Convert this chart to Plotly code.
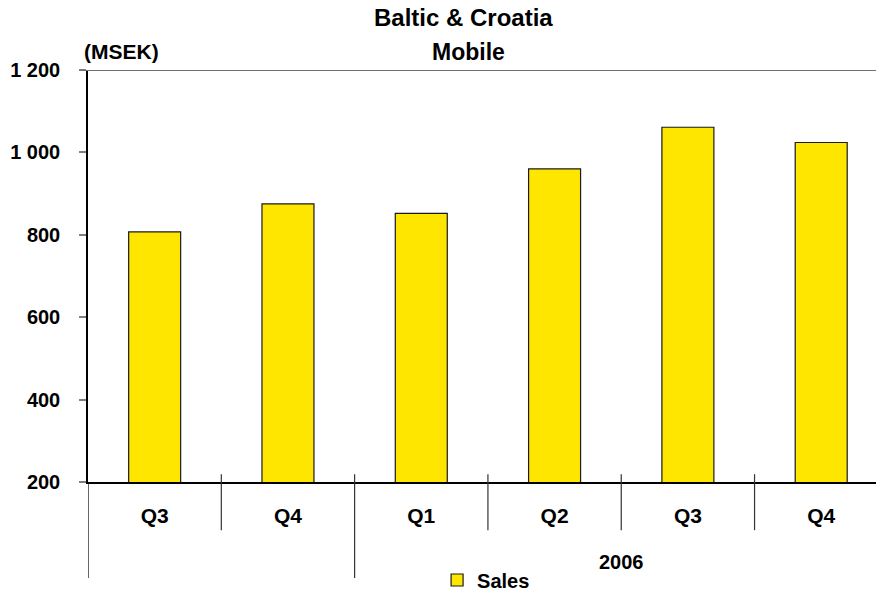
import plotly.graph_objects as go

# Quarterly mobile sales, Baltic & Croatia (MSEK)
quarters = ["Q3", "Q4", "Q1", "Q2", "Q3", "Q4"]
years = ["2005", "2005", "2006", "2006", "2006", "2006"]
sales = [807, 875, 852, 960, 1061, 1024]
year_labels = {"2006": "2006"}  # only the 2006 group is labelled

FONT = "Liberation Sans, Arial, sans-serif"
YELLOW = "#FFE600"

x_idx = list(range(len(quarters)))

fig = go.Figure()
fig.add_trace(go.Bar(
    x=x_idx, y=sales, name="Sales", width=0.39,
    marker=dict(color=YELLOW, line=dict(color="#1a1a1a", width=1.2)),
))

# top frame line at the axis maximum
fig.add_shape(type="line", xref="paper", yref="y", x0=-0.0095, x1=1, y0=1200, y1=1200,
              line=dict(color="#707070", width=2))

# short dividers between quarters, long dividers between years
for i in range(len(quarters) - 1):
    b = i + 0.5
    if years[i] != years[i + 1]:
        fig.add_shape(type="line", xref="x", yref="paper", x0=b, x1=b,
                      y0=0.019, y1=-0.233, line=dict(color="#333333", width=1.2))
    else:
        fig.add_shape(type="line", xref="x", yref="paper", x0=b, x1=b,
                      y0=0.019, y1=-0.117, line=dict(color="#333333", width=1.2))
# left edge of the category area continues below the axis
fig.add_shape(type="line", xref="x", yref="paper", x0=-0.5, x1=-0.5,
              y0=0, y1=-0.233, line=dict(color="#000000", width=1.2))

# year group label(s)
for yr, txt in year_labels.items():
    idx = [i for i, y in enumerate(years) if y == yr]
    fig.add_annotation(x=sum(idx) / len(idx), y=-0.195, xref="x", yref="paper",
                       text=f"<b>{txt}</b>", showarrow=False,
                       font=dict(family=FONT, size=20, color="black"),
                       xanchor="center", yanchor="middle")

# title lines and unit label
fig.add_annotation(x=0.476, y=1.1286, xref="paper", yref="paper",
                   text="<b>Baltic & Croatia</b>", showarrow=False,
                   font=dict(family=FONT, size=24, color="black"),
                   xanchor="center", yanchor="middle")
fig.add_annotation(x=0.4835, y=1.0437, xref="paper", yref="paper",
                   text="<b>Mobile</b>", showarrow=False,
                   font=dict(family=FONT, size=23, color="black"),
                   xanchor="center", yanchor="middle")
fig.add_annotation(x=-0.0076, y=1.046, xref="paper", yref="paper",
                   text="<b>(MSEK)</b>", showarrow=False,
                   font=dict(family=FONT, size=21, color="black"),
                   xanchor="left", yanchor="middle")

fig.update_layout(
    width=876, height=591,
    margin=dict(l=88, r=0, t=70, b=109, autoexpand=False),
    paper_bgcolor="white", plot_bgcolor="white",
    separators=". ",
    font=dict(family=FONT, color="black"),
    showlegend=True,
    legend=dict(orientation="h", x=0.443, y=0.0186, xref="paper", yref="container",
                xanchor="left", yanchor="middle",
                font=dict(family=FONT, size=20, color="black", weight="bold"),
                bgcolor="rgba(0,0,0,0)"),
    bargap=0.61,
    xaxis=dict(
        range=[-0.5, 5.411], tickmode="array", tickvals=x_idx,
        ticktext=[f"<b>{q}</b>" for q in quarters],
        tickfont=dict(family=FONT, size=21, color="black"),
        ticks="", showgrid=False, zeroline=False,
        showline=True, linecolor="black", linewidth=1.5,
        ticklabelstandoff=14, fixedrange=True,
    ),
    yaxis=dict(
        range=[200, 1200], dtick=200, tick0=200, tickformat=",d",
        tickfont=dict(family=FONT, size=20, color="black", weight="bold"),
        ticks="outside", ticklen=7, tickwidth=2, tickcolor="#808080",
        showgrid=False, zeroline=False,
        showline=True, linecolor="black", linewidth=1.5,
        ticklabelstandoff=15, fixedrange=True,
    ),
)

fig.write_html("out.html")
